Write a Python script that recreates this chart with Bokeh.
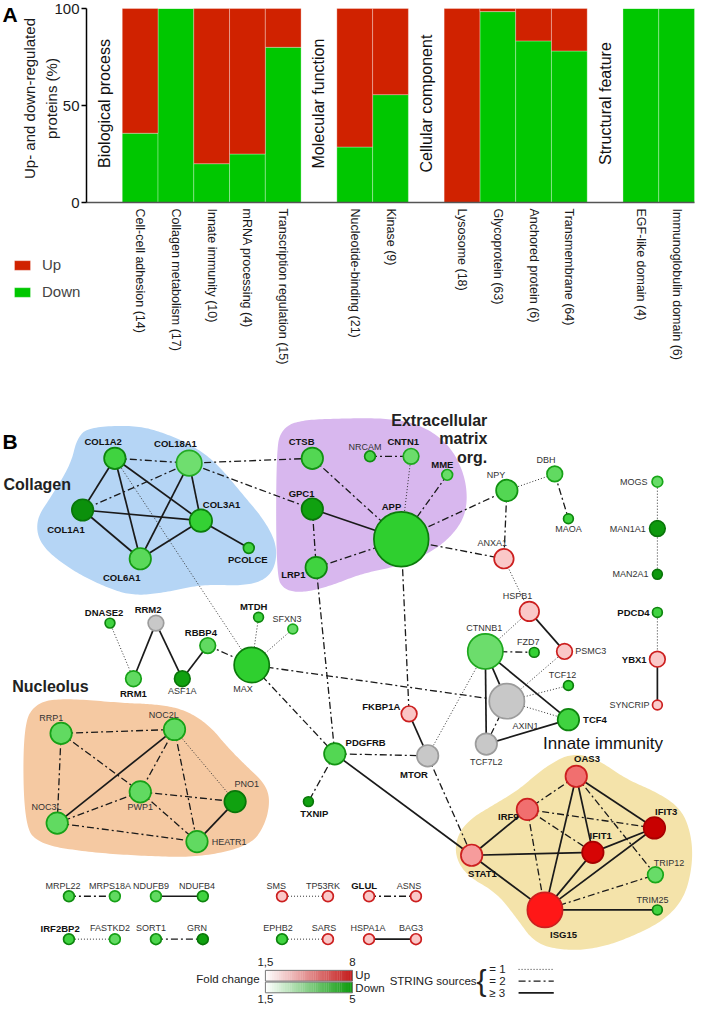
import numpy as np
from bokeh.plotting import figure
from bokeh.models import Range1d, FixedTicker, Legend, LegendItem, ColumnDataSource
from bokeh.layouts import column
from bokeh.embed import file_html
from bokeh.resources import INLINE
from bokeh.core.properties import value

FONT = "Liberation Sans"
RED = "#d02200"
GREEN = "#00c700"

# ---------------- Panel A data ----------------
group_names = ["Biological process", "Molecular function", "Cellular component", "Structural feature"]
group_sizes = [5, 2, 4, 2]
categories = ["Cell-cell adhesion (14)", "Collagen metabolism (17)", "Innate immunity (10)",
              "mRNA processing (4)", "Transcription regulation (15)", "Nucleotide-binding (21)",
              "Kinase (9)", "Lysosome (18)", "Glycoprotein (63)", "Anchored protein (6)",
              "Transmembrane (64)", "EGF-like domain (4)", "Immunoglobulin domain (6)"]
down_pct = [35.7, 100, 20, 25, 80, 28.6, 55.6, 0, 98.4, 83.3, 78.1, 100, 100]
up_pct = [round(100 - d, 1) for d in down_pct]
y_ticks = [0, 50, 100]
y_title = ["Up- and down-regulated", "proteins (%)"]

# ---------------- Panel B data ----------------
node_names = ["COL1A2", "COL18A1", "COL1A1", "COL3A1", "COL6A1", "PCOLCE",
              "CTSB", "GPC1", "NRCAM", "CNTN1", "MME", "APP", "LRP1",
              "NPY", "DBH", "MAOA", "ANXA1", "HSPB1", "MOGS", "MAN1A1", "MAN2A1",
              "CTNNB1", "FZD7", "PSMC3", "TCF12", "AXIN1", "TCF4", "TCF7L2", "FKBP1A", "MTOR", "PDGFRB",
              "PDCD4", "YBX1", "SYNCRIP",
              "DNASE2", "RRM2", "RRM1", "ASF1A", "RBBP4", "MTDH", "SFXN3", "MAX", "TXNIP",
              "RRP1", "NOC2L", "PWP1", "PNO1", "NOC3L", "HEATR1",
              "OAS3", "IRF9", "IFIT3", "IFIT1", "STAT1", "TRIP12", "TRIM25", "ISG15",
              "MRPL22", "MRPS18A", "NDUFB9", "NDUFB4", "SMS", "TP53RK", "GLUL", "ASNS",
              "IRF2BP2", "FASTKD2", "SORT1", "GRN", "EPHB2", "SARS", "HSPA1A", "BAG3"]
# signed fold change (negative = down, positive = up, 0 = not regulated)
node_fold_change = [-3.0, -1.8, -5.0, -3.2, -2.4, -3.0,
                    -2.6, -4.6, -2.8, -1.9, -2.0, -3.3, -3.0,
                    -2.6, -2.2, -3.0, 1.8, 1.8, -2.0, -4.8, -4.8,
                    -1.9, -3.2, 1.8, -3.2, 0, -3.0, 0, 1.9, 0, -2.6,
                    -3.0, 1.8, 1.7,
                    -3.0, 0, -2.2, -4.6, -2.2, -3.0, -2.0, -3.3, -4.6,
                    -2.2, -2.2, -2.2, -4.6, -2.2, -2.2,
                    4.0, 4.0, 8.0, 7.5, 3.0, -2.0, -3.0, 6.0,
                    -2.8, -2.2, -2.2, -3.0, 1.8, 1.8, 1.8, 1.8,
                    -3.0, -2.2, -2.8, -4.6, -3.0, 1.8, 1.8, 1.8]
node_weight = [11, 13, 11, 11.5, 11, 5.5,
               11, 11, 5.5, 8, 5.5, 28, 11,
               11, 8, 5, 10, 10, 5.5, 8, 5,
               18, 5, 8, 5, 18, 11, 11, 8, 11, 11,
               5, 8, 5,
               5, 8, 8, 8, 8, 5, 5, 18, 5,
               11, 11, 11, 11, 11, 11,
               11, 11, 11, 11, 11, 8, 5, 18,
               5.5, 5.5, 5.5, 5.5, 5.5, 5.5, 5.5, 5.5,
               5.5, 5.5, 5.5, 5.5, 5.5, 5.5, 5.5, 5.5]
node_highlight = [1, 1, 1, 1, 1, 1,
                  1, 1, 0, 1, 1, 1, 1,
                  0, 0, 0, 0, 0, 0, 0, 0,
                  0, 0, 0, 0, 0, 1, 0, 1, 1, 1,
                  1, 1, 0,
                  1, 1, 1, 0, 1, 1, 0, 0, 1,
                  0, 0, 0, 0, 0, 0,
                  1, 1, 1, 1, 1, 0, 0, 1,
                  0, 0, 0, 0, 0, 0, 1, 0,
                  1, 0, 0, 0, 0, 0, 0, 0]
# layout (reference pixel space)
node_x = [117, 193, 84, 205, 143, 254,
          319, 319, 378, 420, 457, 410, 323,
          518, 567, 581, 515, 541, 672, 672, 672,
          496, 546, 577, 581, 518, 581, 497, 418, 437, 342,
          672, 672, 672,
          112, 159, 136, 186, 212, 264, 299, 257, 315,
          62, 178, 143, 240, 58, 201,
          589, 539, 669, 606, 482, 670, 672, 557,
          70, 117, 159, 207, 288, 335, 377, 425,
          70, 117, 159, 207, 288, 335, 377, 425]
node_y = [460, 465, 513, 524, 563, 552,
          460, 512, 458, 458, 477, 543, 572,
          493, 476, 522, 563, 617, 484, 532, 579,
          658, 659, 658, 693, 709, 728, 753, 722, 765, 763,
          618, 666, 713,
          629, 629, 686, 686, 652, 623, 635, 672, 812,
          742, 738, 802, 812, 834, 853,
          786, 820, 839, 864, 867, 887, 923, 923,
          909, 909, 909, 909, 909, 909, 909, 909,
          953, 953, 953, 953, 953, 953, 953, 953]
label_x = [105, 179, 67, 207, 124, 253,
           308, 308, 373, 412, 452, 400, 312,
           507, 558, 581, 503, 529, 662, 660, 663,
           495, 540, 588, 575, 537, 596, 497, 409, 423, 353,
           664, 661, 664,
           106, 151, 136, 186, 205, 259, 293, 248, 321,
           52, 167, 143, 252, 47, 216,
           600, 530, 681, 614, 493, 684, 667, 576,
           64, 112, 154, 201, 282, 330, 372, 418,
           61, 112, 154, 201, 284, 331, 376, 420]
label_y = [443, 445, 533, 507, 582, 564,
           443, 496, 448, 443, 466, 509, 579,
           477, 462, 533, 547, 601, 484, 532, 579,
           634, 648, 658, 682, 734, 728, 771, 714, 784, 751,
           618, 666, 713,
           618, 615, 701, 699, 639, 612, 625, 697, 824,
           726, 723, 818, 794, 818, 853,
           768, 827, 822, 847, 886, 875, 913, 948,
           898, 898, 898, 898, 898, 898, 898, 898,
           942, 942, 942, 942, 942, 942, 942, 942]
label_side = ["center", "center", "center", "left", "center", "center",
              "center", "center", "center", "center", "center", "center", "right",
              "center", "center", "center", "center", "center", "right", "right", "right",
              "center", "center", "left", "center", "center", "left", "center", "right", "center", "left",
              "right", "right", "right",
              "center", "center", "center", "center", "center", "center", "center", "center", "center",
              "center", "center", "center", "center", "center", "left",
              "center", "right", "center", "center", "center", "center", "center", "center"] + ["center"] * 16

edges_1_source = [("COL1A2", "MAX"), ("CNTN1", "APP"), ("NPY", "DBH"), ("ANXA1", "HSPB1"),
                  ("HSPB1", "CTNNB1"), ("PSMC3", "AXIN1"), ("TCF12", "AXIN1"), ("AXIN1", "TCF4"),
                  ("MOGS", "MAN1A1"), ("MAN1A1", "MAN2A1"), ("PDCD4", "YBX1"), ("DNASE2", "RRM1"),
                  ("MAX", "MTDH"), ("MAX", "SFXN3"), ("MTOR", "CTNNB1"), ("NOC2L", "PNO1"),
                  ("SMS", "TP53RK"), ("IRF2BP2", "FASTKD2"), ("EPHB2", "SARS")]
edges_2_sources = [("COL1A2", "COL18A1"), ("COL18A1", "COL1A1"), ("COL18A1", "CTSB"), ("COL18A1", "GPC1"),
                   ("CTSB", "APP"), ("GPC1", "LRP1"), ("LRP1", "APP"), ("NRCAM", "CNTN1"), ("MME", "APP"),
                   ("APP", "NPY"), ("APP", "ANXA1"), ("APP", "FKBP1A"), ("LRP1", "PDGFRB"),
                   ("NPY", "ANXA1"), ("DBH", "MAOA"), ("CTNNB1", "FZD7"), ("AXIN1", "TCF7L2"),
                   ("RBBP4", "MAX"), ("MAX", "AXIN1"), ("MAX", "PDGFRB"), ("PDGFRB", "TXNIP"),
                   ("PDGFRB", "MTOR"), ("MTOR", "STAT1"),
                   ("RRP1", "NOC2L"), ("RRP1", "NOC3L"), ("RRP1", "PWP1"), ("NOC2L", "PWP1"),
                   ("NOC2L", "HEATR1"), ("PWP1", "NOC3L"), ("PWP1", "PNO1"), ("PWP1", "HEATR1"),
                   ("NOC3L", "HEATR1"),
                   ("OAS3", "IRF9"), ("OAS3", "TRIP12"), ("IRF9", "IFIT3"), ("IRF9", "IFIT1"),
                   ("IRF9", "ISG15"), ("ISG15", "TRIP12"),
                   ("MRPL22", "MRPS18A"), ("GLUL", "ASNS"), ("SORT1", "GRN")]
edges_3_sources = [("COL1A2", "COL1A1"), ("COL1A2", "COL6A1"), ("COL1A2", "COL3A1"), ("COL18A1", "COL6A1"),
                   ("COL18A1", "COL3A1"), ("COL1A1", "COL3A1"), ("COL1A1", "COL6A1"), ("COL6A1", "COL3A1"),
                   ("COL3A1", "PCOLCE"), ("GPC1", "APP"), ("HSPB1", "PSMC3"), ("CTNNB1", "AXIN1"),
                   ("CTNNB1", "TCF7L2"), ("CTNNB1", "TCF4"), ("TCF7L2", "TCF4"), ("YBX1", "SYNCRIP"),
                   ("RRM1", "RRM2"), ("RRM2", "ASF1A"), ("ASF1A", "RBBP4"), ("PDGFRB", "STAT1"),
                   ("MTOR", "FKBP1A"), ("NOC2L", "NOC3L"), ("PNO1", "HEATR1"),
                   ("OAS3", "IFIT1"), ("OAS3", "ISG15"), ("OAS3", "IFIT3"), ("IRF9", "STAT1"),
                   ("STAT1", "IFIT1"), ("STAT1", "ISG15"), ("IFIT1", "IFIT3"), ("IFIT1", "ISG15"),
                   ("IFIT3", "ISG15"), ("ISG15", "TRIM25"),
                   ("NDUFB9", "NDUFB4"), ("HSPA1A", "BAG3")]

cluster_names = ["Collagen", "Extracellular matrix org.", "Nucleolus", "Innate immunity"]
blob_collagen = [(90, 428), (140, 426), (173, 436), (200, 449), (222, 466), (247, 496), (272, 526),
                 (284, 553), (278, 580), (254, 591), (207, 589), (167, 598), (133, 601), (100, 589),
                 (67, 571), (40, 548), (36, 523), (52, 499), (72, 466), (78, 440)]
blob_ecm = [(282, 450), (288, 430), (305, 421), (350, 419), (400, 419), (433, 427), (460, 447),
            (475, 477), (478, 507), (470, 530), (447, 553), (410, 570), (370, 578), (340, 590),
            (310, 598), (290, 595), (282, 580)]
blob_nucleolus = [(23, 733), (37, 710), (67, 706), (127, 711), (157, 712), (187, 717), (213, 733),
                  (233, 757), (253, 777), (270, 793), (276, 810), (271, 835), (256, 857), (205, 869),
                  (150, 868), (91, 864), (40, 856), (24, 836)]
blob_innate = [(583, 762), (610, 768), (640, 789), (673, 803), (697, 820), (707, 847), (708, 877),
               (700, 910), (680, 933), (647, 950), (613, 962), (580, 965), (547, 958), (527, 930),
               (507, 905), (477, 888), (465, 868), (467, 847), (480, 830), (505, 815), (530, 800),
               (555, 778)]
blob_colors = ["#b5d5f5", "#d8b7ee", "#f5c9a2", "#f4e3aa"]

fc_up_range = [1.5, 8]
fc_down_range = [1.5, 5]
string_levels = ["= 1", "= 2", "\u2265 3"]

assert len(node_names) == len(node_x) == len(node_y) == len(node_fold_change) == len(node_weight) \
    == len(node_highlight) == len(label_x) == len(label_y) == len(label_side)


# ---------------- helpers ----------------
def hex2rgb(h):
    return [int(h[i:i + 2], 16) for i in (1, 3, 5)]


def rgb2hex(c):
    return "#%02x%02x%02x" % tuple(int(round(max(0, min(255, v)))) for v in c)


def ramp(stops, t):
    t = min(max(t, 0.0), 1.0)
    for (t0, c0), (t1, c1) in zip(stops[:-1], stops[1:]):
        if t <= t1:
            f = (t - t0) / (t1 - t0) if t1 > t0 else 0
            a, b = hex2rgb(c0), hex2rgb(c1)
            return rgb2hex([a[i] + (b[i] - a[i]) * f for i in range(3)])
    return stops[-1][1]


DOWN_STOPS = [(0, "#7ae07a"), (0.35, "#4fd64f"), (0.6, "#1ecc1e"), (1.0, "#0b900b")]
UP_STOPS = [(0, "#fbd3d3"), (0.2, "#f7a5a5"), (0.4, "#f06a6a"), (0.7, "#ff1515"), (1.0, "#c80000")]


def node_colors(fc):
    if fc < 0:
        t = (abs(fc) - fc_down_range[0]) / (fc_down_range[1] - fc_down_range[0])
        fill = ramp(DOWN_STOPS, t)
        line = rgb2hex([v * 0.82 for v in hex2rgb(ramp(DOWN_STOPS, t + 0.45))])
    elif fc > 0:
        t = (fc - fc_up_range[0]) / (fc_up_range[1] - fc_up_range[0])
        fill = ramp(UP_STOPS, t)
        line = "#cc1f1f" if t < 0.8 else "#a80000"
    else:
        fill, line = "#c8c8c8", "#9c9c9c"
    return fill, line


def chaikin(pts, it=3):
    P = np.array(pts, float)
    for _ in range(it):
        N = np.roll(P, -1, axis=0)
        Q = 0.75 * P + 0.25 * N
        R = 0.25 * P + 0.75 * N
        P2 = np.empty((2 * len(P), 2))
        P2[0::2] = Q
        P2[1::2] = R
        P = P2
    return list(P[:, 0]), list(P[:, 1])


# ---------------- Panel A ----------------
bar_x, group_x = [], []
s = 0
for g in group_sizes:
    group_x.append(s + 0.5)
    s += 1
    for _ in range(g):
        bar_x.append(s + 0.5)
        s += 1
n_slots = s

WA, HA = 695, 370
AX0, AX1 = 86, 694      # frame px of axis start / last bar end
AY100, AY0 = 8, 202     # px of 100 % and 0 %
SW = (AX1 - AX0) / n_slots
PY = (AY0 - AY100) / 100.0


def ax(px):
    return (px - AX0) / SW


def ay(py):
    return 100 - (py - AY100) / PY


pA = figure(width=WA, height=HA, x_range=Range1d(ax(0), ax(WA)), y_range=Range1d(ay(HA), ay(0)),
            output_backend="svg", toolbar_location=None, min_border=0)
pA.grid.visible = False
pA.outline_line_color = None

srcA = ColumnDataSource(dict(x=bar_x, down=down_pct, up=up_pct))
rs = pA.vbar_stack(["down", "up"], x="x", width=1.0, source=srcA, fill_color=[GREEN, RED],
                   line_color="white", line_alpha=0.3, line_width=1)

xa = pA.xaxis[0]
xa.fixed_location = 0
xa.bounds = (0, n_slots)
xa.ticker = FixedTicker(ticks=bar_x)
xa.major_label_overrides = {x: c for x, c in zip(bar_x, categories)}
xa.major_label_orientation = "vertical"
xa.major_tick_out = 0
xa.major_tick_in = 0
xa.minor_tick_out = 0
xa.minor_tick_in = 0
xa.axis_line_color = "#555555"
xa.axis_line_width = 1.5
xa.major_label_text_font = FONT
xa.major_label_text_font_size = "12.5px"
xa.major_label_text_color = "#1a1a1a"
xa.major_label_standoff = 6

ya = pA.yaxis[0]
ya.fixed_location = 0
ya.bounds = (0, 100)
ya.ticker = FixedTicker(ticks=y_ticks)
ya.major_tick_out = 5
ya.major_tick_in = 0
ya.minor_tick_out = 0
ya.minor_tick_in = 0
ya.axis_line_width = 1.5
ya.major_tick_line_width = 1.5
ya.major_label_text_font = FONT
ya.major_label_text_font_size = "15px"
ya.major_label_text_color = "#1a1a1a"
ya.major_label_standoff = 2

# y-axis title (two lines)
pA.text(x=[ax(29), ax(51)], y=[ay(98), ay(98)], text=y_title, angle=np.pi / 2,
        text_align="center", text_baseline="middle", text_font=value(FONT),
        text_font_size=value("15px"), text_color="#1a1a1a")

# group labels
pA.text(x=group_x, y=[51] * len(group_x), text=group_names, angle=np.pi / 2,
        text_align="center", text_baseline="middle", text_font=value(FONT),
        text_font_size=value("16px"), text_color="#111111")

# panel letter
pA.text(x=[ax(2)], y=[ay(14)], text=["A"], text_align="left", text_baseline="middle",
        text_font=value(FONT), text_font_style="bold", text_font_size=value("21px"), text_color="#000000")

legA = Legend(items=[LegendItem(label="Up", renderers=[rs[1]]),
                     LegendItem(label="Down", renderers=[rs[0]])],
              location=(12, HA - 300), border_line_color=None, background_fill_alpha=0,
              glyph_width=20, glyph_height=12, label_text_font=FONT, label_text_font_size="15px",
              spacing=10, padding=0, margin=0, label_standoff=10)
pA.add_layout(legA)

# ---------------- Panel B ----------------
WB, HB = 695, 634
pB = figure(width=WB, height=HB, x_range=Range1d(0, 711), y_range=Range1d(1020, 370),
            output_backend="svg", toolbar_location=None, min_border=0,
            x_axis_location=None, y_axis_location=None)
pB.grid.visible = False
pB.outline_line_color = None
scale = WB / 711.0

# blobs
for pts, col in zip([blob_collagen, blob_ecm, blob_nucleolus, blob_innate], blob_colors):
    bx, by = chaikin(pts, 4)
    pB.patch(bx, by, fill_color=col, line_color=None)

# edges
idx = {n: i for i, n in enumerate(node_names)}
edge_styles = {1: dict(line_dash="1 2", line_width=1.0, line_color="#333333"),
               2: dict(line_dash="7 3 2 3", line_width=1.3, line_color="#1a1a1a"),
               3: dict(line_dash="solid", line_width=1.7, line_color="#1a1a1a")}
for lvl, pairs in [(1, edges_1_source), (2, edges_2_sources), (3, edges_3_sources)]:
    xs = [[node_x[idx[a]], node_x[idx[b]]] for a, b in pairs]
    ys = [[node_y[idx[a]], node_y[idx[b]]] for a, b in pairs]
    pB.multi_line(xs, ys, **edge_styles[lvl])

# nodes
fills, lines = zip(*[node_colors(fc) for fc in node_fold_change])
srcN = ColumnDataSource(dict(x=node_x, y=node_y, size=[2 * w * scale for w in node_weight],
                             fill=list(fills), line=list(lines)))
pB.scatter("x", "y", size="size", source=srcN, marker="circle", fill_color="fill",
           line_color="line", line_width=1.7)

# node labels
srcL = ColumnDataSource(dict(x=label_x, y=label_y, text=node_names, align=label_side,
                             style=["bold" if b else "normal" for b in node_highlight],
                             color=["#111111" if b else "#333333" for b in node_highlight],
                             fsize=["9.5px" if b else "9px" for b in node_highlight]))
pB.text("x", "y", text="text", source=srcL, text_align="align", text_baseline="middle",
        text_font=value(FONT), text_font_style="style", text_color="color", text_font_size="fsize")

# cluster titles
pB.text(x=[3], y=[487], text=[cluster_names[0]], text_align="left", text_baseline="middle",
        text_font=value(FONT), text_font_style="bold", text_font_size=value("16px"), text_color="#222222")
ecm_lines = ["Extracellular", "matrix", "org."]
pB.text(x=[498] * 3, y=[421, 440, 459], text=ecm_lines, text_align="right", text_baseline="middle",
        text_font=value(FONT), text_font_style="bold", text_font_size=value("16px"), text_color="#222222")
pB.text(x=[12], y=[694], text=[cluster_names[2]], text_align="left", text_baseline="middle",
        text_font=value(FONT), text_font_style="bold", text_font_size=value("16px"), text_color="#222222")
pB.text(x=[555], y=[752], text=[cluster_names[3]], text_align="left", text_baseline="middle",
        text_font=value(FONT), text_font_style="normal", text_font_size=value("17px"), text_color="#111111")
pB.text(x=[2], y=[443], text=["B"], text_align="left", text_baseline="middle",
        text_font=value(FONT), text_font_style="bold", text_font_size=value("21px"), text_color="#000000")

# fold-change legend
n = 40
gx = np.linspace(271, 360, n + 1)
up_cols = [ramp([(0, "#ffffff"), (1, "#c41a1a")], (i + 0.5) / n) for i in range(n)]
dn_cols = [ramp([(0, "#ffffff"), (1, "#0a9a0a")], (i + 0.5) / n) for i in range(n)]
pB.quad(left=gx[:-1], right=gx[1:] + 0.3, top=[985] * n, bottom=[996] * n, fill_color=up_cols, line_color=None)
pB.quad(left=gx[:-1], right=gx[1:] + 0.3, top=[997] * n, bottom=[1008] * n, fill_color=dn_cols, line_color=None)
pB.quad(left=[271, 271], right=[360, 360], top=[985, 997], bottom=[996, 1008], fill_color=None,
        line_color="#777777", line_width=1)
tf = dict(text_font=value(FONT), text_font_size=value("11.5px"), text_color="#222222", text_baseline="middle")
pB.text(x=[265], y=[994], text=["Fold change"], text_align="right", **tf)
pB.text(x=[363, 363], y=[990, 1003], text=["Up", "Down"], text_align="left", **tf)
fmt = lambda v: ("%g" % v).replace(".", ",")
pB.text(x=[271, 360, 271, 360], y=[976, 976, 1014, 1014],
        text=[fmt(fc_up_range[0]), fmt(fc_up_range[1]), fmt(fc_down_range[0]), fmt(fc_down_range[1])],
        text_align="center", **tf)

# STRING sources legend
pB.text(x=[487], y=[996], text=["STRING sources"], text_align="right", **tf)
pB.text(x=[487], y=[995], text=["{"], text_align="left", text_baseline="middle",
        text_font=value(FONT), text_font_size=value("30px"), text_color="#222222")
pB.text(x=[500, 500, 500], y=[984, 996, 1008], text=string_levels, text_align="left", **tf)
for lvl, yy in zip([1, 2, 3], [984, 996, 1008]):
    pB.line(x=[530, 566], y=[yy, yy], **edge_styles[lvl])

layout = column(pA, pB)
open("out.html", "w").write(file_html(layout, INLINE))
